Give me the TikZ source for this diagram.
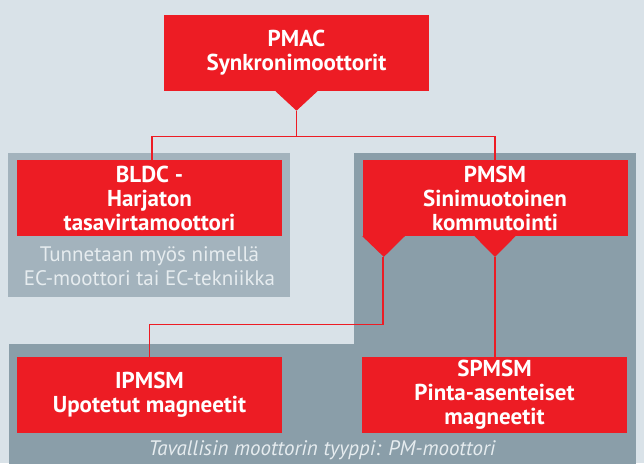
\documentclass[tikz,border=0pt]{standalone}
\usepackage{fontspec}
\setmainfont{PT Sans}
\usepackage{xcolor}
\usepackage{tikz}
\definecolor{bgblue}{HTML}{D9E2E8}
\definecolor{motred}{HTML}{ED1C24}
\definecolor{panellight}{HTML}{A3B3BD}
\definecolor{paneldark}{HTML}{8A9EA9}
\definecolor{notegray}{HTML}{E6ECEF}
\begin{document}
\begin{tikzpicture}[x=1pt,y=-1pt,
	motorbox/.style={fill=motred,text=white,minimum width=265pt,minimum height=76pt,inner sep=0pt,align=center,font=\fontsize{23}{24}\selectfont\bfseries},
	motorline/.style={draw=motred,line width=1.8pt},
	notetext/.style={text=notegray,align=center,inner sep=0pt}]
	\fill[bgblue] (0,0) rectangle (644,463);
	\useasboundingbox (0,0) rectangle (644,463);
	\fill[panellight] (8,153.3) rectangle (290,296.7);
	\fill[paneldark] (354,153.3) rectangle (636,470);
	\fill[paneldark] (8.5,343.7) rectangle (636,470);
	\node[motorbox] (pmac) at (296.5,53) {PMAC\\Synkronimoottorit};
	\node[motorbox] (bldc) at (149.5,198) {BLDC -\\Harjaton\\tasavirtamoottori};
	\node[motorbox] (pmsm) at (495,198) {PMSM\\Sinimuotoinen\\kommutointi};
	\node[motorbox,minimum height=75.5pt] (ipmsm) at (149.5,395) {IPMSM\\Upotetut magneetit};
	\node[motorbox,minimum height=75.5pt] (spmsm) at (494.5,395) {SPMSM\\Pinta-asenteiset\\magneetit};
	\node[notetext,font=\fontsize{21}{24}\selectfont] (bldcnote) at (149.5,266) {Tunnetaan myös nimellä\\EC-moottori tai EC-tekniikka};
	\node[notetext,font=\fontsize{21}{24}\selectfont\itshape] (pmnote) at (322,450) {Tavallisin moottorin tyyppi: PM-moottori};
	\fill[motred] (pmac.south) ++(-21,0) -- ++(42,0) -- ++(-21,19.5) -- cycle;
	\fill[motred] (pmsm.south west) -- ++(42.5,0) -- ++(-21,20.7) -- cycle;
	\fill[motred] (pmsm.south) ++(-20.5,0) -- ++(41,0) -- ++(-20.5,20.7) -- cycle;
	\coordinate (pmactip) at ([yshift=-19.5pt]pmac.south);
	\coordinate (pmsmtipl) at ([xshift=21pt,yshift=-20.7pt]pmsm.south west);
	\coordinate (pmsmtipr) at ([yshift=-20.7pt]pmsm.south);
	\draw[motorline] (pmactip) -- ++(0,25.7) -| ([xshift=2.5pt]bldc.north);
	\draw[motorline] (pmactip) -- ++(0,25.7) -| (pmsm.north);
	\draw[motorline] (pmsmtipl) -- ++(0,67.6) -| (ipmsm.north);
	\draw[motorline] (pmsmtipr) -- (pmsmtipr |- spmsm.north);
\end{tikzpicture}
\end{document}
